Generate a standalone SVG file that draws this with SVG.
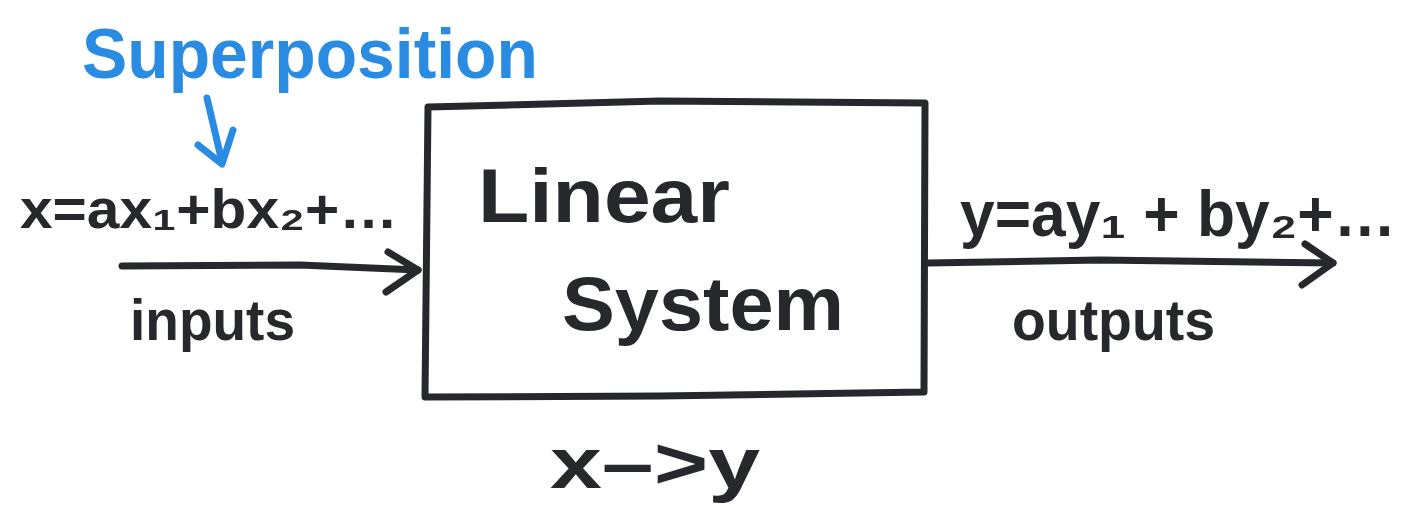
<svg xmlns="http://www.w3.org/2000/svg" width="1415" height="513" viewBox="0 0 1415 513">
<defs>
<style>
.ink{fill:none;stroke:#26282c;stroke-width:7;stroke-linecap:round;stroke-linejoin:round}
.blue{fill:none;stroke:#2a8be2;stroke-width:7;stroke-linecap:round;stroke-linejoin:round}
.t{font-family:"Liberation Sans","Noto Sans",sans-serif;fill:#26282c;font-weight:bold}
.tb{font-family:"Liberation Sans","Noto Sans",sans-serif;fill:#2a8be2;font-weight:bold}
</style>
</defs>
<rect width="1415" height="513" fill="#ffffff"/>
<g id="system">
<path class="ink" d="M428,107 L660,101 L925,103 L924,392 L660,396 L425,397 Z"/>
<text class="t" x="478" y="222" font-size="76" textLength="252" lengthAdjust="spacingAndGlyphs">Linear</text>
<text class="t" x="562" y="330" font-size="76" textLength="282" lengthAdjust="spacingAndGlyphs">System</text>
<text class="t" x="550" y="488" font-size="72" textLength="210" lengthAdjust="spacingAndGlyphs">x–&gt;y</text>
</g>
<g id="input-label">
<text class="t" x="20" y="228" font-size="56" textLength="378" lengthAdjust="spacingAndGlyphs">x=ax₁+bx₂+…</text>
<text class="t" x="130" y="340" font-size="58" textLength="165" lengthAdjust="spacingAndGlyphs">inputs</text>
</g>
<g id="output-label">
<text class="t" x="960" y="236" font-size="64" textLength="436" lengthAdjust="spacingAndGlyphs">y=ay₁ + by₂+…</text>
<text class="t" x="1012" y="340" font-size="58" textLength="203" lengthAdjust="spacingAndGlyphs">outputs</text>
</g>
<g id="superposition">
<text class="tb" x="82" y="78" font-size="70" textLength="456" lengthAdjust="spacingAndGlyphs">Superposition</text>
</g>
<g id="connectors">
<path class="ink" d="M122,266 L300,265 L418,270"/>
<path class="ink" d="M388,252 L418,270 L386,292"/>
<path class="ink" d="M928,263 L1100,260 L1333,263"/>
<path class="ink" d="M1305,244 L1333,263 L1302,285"/>
<path class="blue" d="M207,98 L222,162"/>
<path class="blue" d="M198,145 L222,164 L233,130"/>
</g>
</svg>
